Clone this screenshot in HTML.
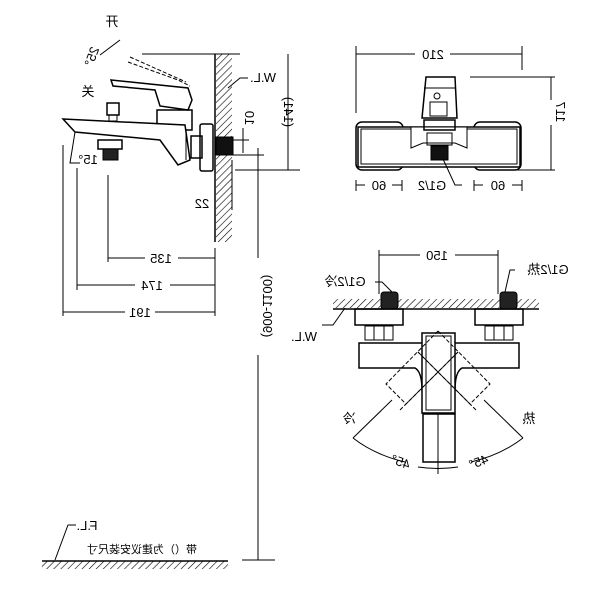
<!DOCTYPE html>
<html><head><meta charset="utf-8"><style>
html,body{margin:0;padding:0;background:#fff}
svg{display:block}
text{font-family:"Liberation Sans","Noto Sans CJK SC",sans-serif;font-size:13px;fill:#000}
</style></head><body>
<svg width="600" height="600" viewBox="0 0 600 600" xmlns="http://www.w3.org/2000/svg">
<defs>
<pattern id="h" width="5" height="5" patternUnits="userSpaceOnUse" patternTransform="rotate(45)">
<line x1="0" y1="0" x2="0" y2="5" stroke="#000" stroke-width="1.2"/></pattern>
</defs>
<g fill="none" stroke="#000" stroke-width="1">
<!-- SIDE VIEW -->
<line x1="142" y1="54" x2="240" y2="54"/>
<line x1="215" y1="54" x2="215" y2="242" stroke-width="1.5"/>
<rect x="216" y="54" width="16" height="188" fill="url(#h)" stroke="none"/>
<polyline points="228,88 240,78 248,78"/>
<!-- lever -->
<path d="M111,80 L188,88 L192,100 L188,110 L160,106 L155,90 L113,86 Z" stroke-width="1.5"/>
<path d="M128,62 L178,80 L190,86" stroke-dasharray="4,2"/>
<path d="M130,57 L186,82" stroke-dasharray="4,2"/>
<line x1="100" y1="55" x2="120" y2="40"/>
<!-- body -->
<rect x="157" y="110" width="35" height="20" stroke-width="1.5"/>
<path d="M63,119 L185,125 L190,160 L178,165 L160,140 L75,132 Z" stroke-width="1.5" fill="#fff"/>
<line x1="186" y1="130" x2="186" y2="160"/>
<rect x="107" y="103" width="12" height="12" stroke-width="1.5"/>
<rect x="109" y="115" width="8" height="6"/>
<rect x="98" y="140" width="24" height="9" stroke-width="1.5"/>
<rect x="103" y="149" width="15" height="11" fill="#222"/>
<rect x="191" y="136" width="11" height="22" stroke-width="1.5"/>
<rect x="200" y="124" width="13" height="47" rx="2" stroke-width="1.5"/>
<rect x="216" y="137" width="17" height="18" fill="#111"/>
<!-- dim lines side -->
<line x1="233" y1="140" x2="249" y2="140"/><line x1="233" y1="155" x2="264" y2="155"/>
<line x1="243" y1="128" x2="243" y2="153"/>
<line x1="235" y1="170" x2="300" y2="170"/>
<line x1="232" y1="160" x2="232" y2="210"/>
<line x1="258" y1="148" x2="258" y2="258"/>
<line x1="258" y1="355" x2="258" y2="560"/>
<line x1="242" y1="560" x2="275" y2="560"/>
<line x1="108" y1="175" x2="108" y2="262"/>
<line x1="77" y1="168" x2="77" y2="290"/>
<line x1="63" y1="145" x2="63" y2="316"/>
<line x1="215" y1="248" x2="215" y2="316"/>
<line x1="108" y1="258" x2="145" y2="258"/><line x1="178" y1="258" x2="215" y2="258"/>
<line x1="77" y1="285" x2="135" y2="285"/><line x1="170" y1="285" x2="215" y2="285"/>
<line x1="63" y1="312" x2="125" y2="312"/><line x1="155" y1="312" x2="215" y2="312"/>
<polyline points="75,132 70,163 80,163"/>
<line x1="288" y1="54" x2="288" y2="170"/>
<!-- TOP VIEW -->
<line x1="356" y1="54" x2="415" y2="54"/><line x1="450" y1="54" x2="522" y2="54"/>
<line x1="356" y1="46" x2="356" y2="113"/><line x1="522" y1="46" x2="522" y2="70"/>
<rect x="356" y="122" width="47" height="48" rx="6" stroke-width="1.5"/>
<rect x="474" y="122" width="47" height="48" rx="6" stroke-width="1.5"/>
<rect x="358" y="127" width="162" height="40" fill="#fff" stroke-width="1.5"/>
<rect x="361" y="129" width="156" height="35"/>
<path d="M411,127 L467,127 L467,148 L455,143 L423,143 L411,148 Z" fill="#fff"/>
<path d="M426,77 L455,77 L457,118 L422,118 Z" stroke-width="1.5" fill="#fff"/>
<line x1="424" y1="88" x2="456" y2="88"/>
<circle cx="437" cy="96" r="3"/>
<rect x="430" y="102" width="17" height="14"/>
<rect x="424" y="120" width="31" height="10" stroke-width="1.5"/>
<rect x="427" y="133" width="25" height="12"/>
<rect x="431" y="146" width="17" height="14" fill="#111"/>
<polyline points="443,159 455,185 462,185"/>
<line x1="470" y1="77" x2="555" y2="77"/><line x1="505" y1="170" x2="555" y2="170"/>
<line x1="551" y1="77" x2="551" y2="100"/><line x1="551" y1="125" x2="551" y2="170"/>
<line x1="356" y1="180" x2="356" y2="191"/><line x1="402" y1="180" x2="402" y2="191"/>
<line x1="474" y1="180" x2="474" y2="191"/><line x1="522" y1="180" x2="522" y2="191"/>
<line x1="356" y1="185" x2="365" y2="185"/><line x1="392" y1="185" x2="402" y2="185"/>
<line x1="474" y1="185" x2="483" y2="185"/><line x1="512" y1="185" x2="522" y2="185"/>
<!-- FRONT VIEW -->
<line x1="379" y1="250" x2="379" y2="294"/><line x1="498" y1="250" x2="498" y2="294"/>
<line x1="379" y1="255" x2="420" y2="255"/><line x1="455" y1="255" x2="498" y2="255"/>
<rect x="333" y="299" width="206" height="9" fill="url(#h)" stroke="none"/>
<line x1="333" y1="309" x2="539" y2="309" stroke-width="1.5"/>
<rect x="381" y="292" width="17" height="17" rx="3" fill="#222"/>
<rect x="500" y="292" width="17" height="17" rx="3" fill="#222"/>
<rect x="355" y="309" width="48" height="16" stroke-width="1.5"/>
<rect x="475" y="309" width="48" height="16" stroke-width="1.5"/>
<rect x="365" y="326" width="28" height="14"/><line x1="374" y1="326" x2="374" y2="340"/><line x1="384" y1="326" x2="384" y2="340"/>
<rect x="485" y="326" width="28" height="14"/><line x1="494" y1="326" x2="494" y2="340"/><line x1="504" y1="326" x2="504" y2="340"/>
<path d="M359,343 L519,343 L519,368 L462,368 Q455,372 455,390 L422,390 Q422,372 415,368 L359,368 Z" stroke-width="1.5"/>
<rect x="422" y="333" width="33" height="80" stroke-width="1.5" fill="#fff"/>
<rect x="426" y="336" width="25" height="74"/>
<rect x="423" y="414" width="32" height="48" stroke-width="1.5"/>
<line x1="438" y1="414" x2="438" y2="474"/>
<g stroke-dasharray="4,2">
<path d="M438,331 L386,384 L406,404 L458,352"/>
<path d="M438,331 L490,384 L470,404 L418,352"/>
<line x1="423" y1="346" x2="492" y2="415" stroke-dasharray="none" stroke="none"/>
<path d="M418,352 L476,410 M458,352 L400,410" />
</g>
<line x1="392" y1="400" x2="353" y2="438"/>
<line x1="484" y1="400" x2="523" y2="438"/>
<path d="M353,438 Q375,455 405,462"/><path d="M471,462 Q501,455 523,438"/>
<path d="M418,467 Q438,470 458,467"/>
<polyline points="345,308 333,325 322,325"/>
<polyline points="392,292 382,282 375,282"/>
<polyline points="505,292 510,270 515,270"/>
<!-- floor -->
<rect x="42" y="561" width="186" height="8" fill="url(#h)" stroke="none"/>
<line x1="42" y1="561" x2="228" y2="561" stroke-width="1.5"/>
<polyline points="55,560 68,525 76,525"/>
</g>
<!-- mirrored text -->
<g text-anchor="middle">
<text transform="translate(112,26) scale(-1,1)">开</text>
<text transform="translate(88,96) scale(-1,1)">关</text>
<text transform="translate(96,58) rotate(-70) scale(-1,1)">25°</text>
<text transform="translate(88,164) scale(-1,1)">15°</text>
<text transform="translate(263,82) scale(-1,1)">W.L.</text>
<text transform="translate(245,118) rotate(90) scale(-1,1)">10</text>
<text transform="translate(202,208) scale(-1,1)">22</text>
<text transform="translate(161,263) scale(-1,1)">135</text>
<text transform="translate(152,290) scale(-1,1)">174</text>
<text transform="translate(140,317) scale(-1,1)">191</text>
<text transform="translate(263,306) rotate(90) scale(-1,1)">(900-1100)</text>
<text transform="translate(284,112) rotate(90) scale(-1,1)">(141)</text>
<text transform="translate(433,59) scale(-1,1)">210</text>
<text transform="translate(556,112) rotate(90) scale(-1,1)">117</text>
<text transform="translate(379,190) scale(-1,1)">60</text>
<text transform="translate(498,190) scale(-1,1)">60</text>
<text transform="translate(432,190) scale(-1,1)">G1/2</text>
<text transform="translate(437,260) scale(-1,1)">150</text>
<text transform="translate(345,286) scale(-1,1)">G1/2冷</text>
<text transform="translate(548,274) scale(-1,1)">G1/2热</text>
<text transform="translate(304,341) scale(-1,1)">W.L.</text>
<text transform="translate(349,423) scale(-1,1)">冷</text>
<text transform="translate(529,423) scale(-1,1)">热</text>
<text transform="translate(399,466) rotate(20) scale(-1,1)">45°</text>
<text transform="translate(480,466) rotate(-20) scale(-1,1)">45°</text>
<text transform="translate(87,530) scale(-1,1)">F.L.</text>
<text transform="translate(142,553) scale(-1,1)" style="font-size:11px">带（）为建议安装尺寸</text>
</g>
</svg>
</body></html>
